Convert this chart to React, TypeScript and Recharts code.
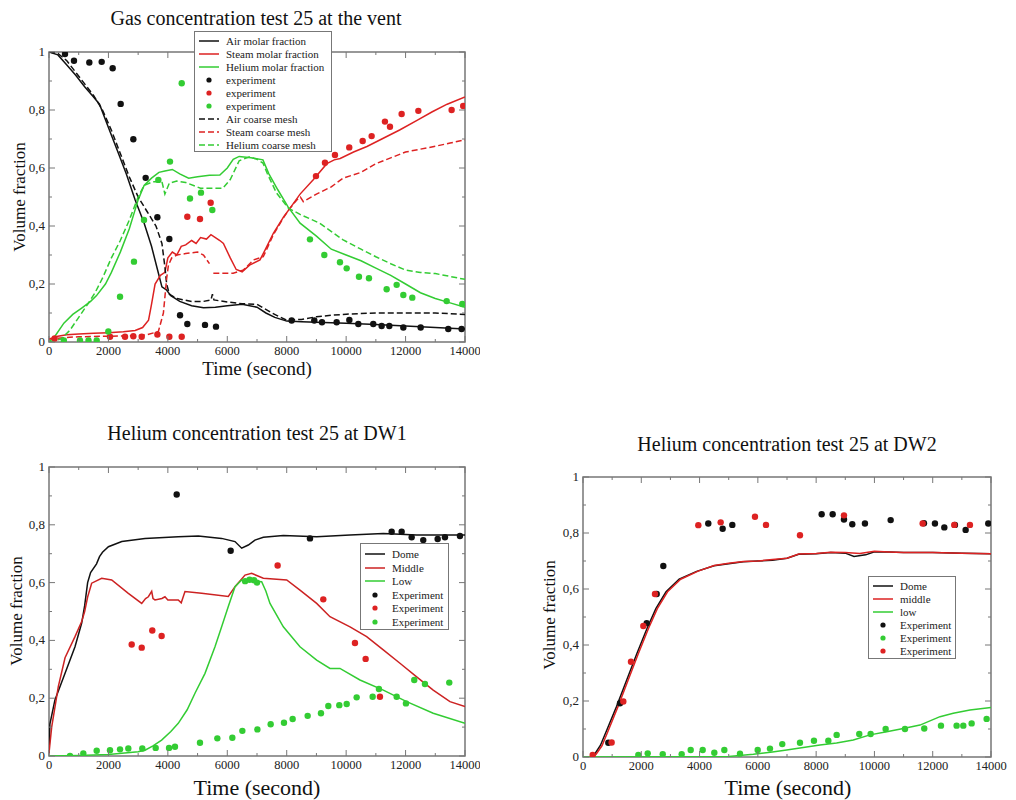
import React from 'react';
import { ComposedChart, Line, Scatter, XAxis, YAxis, ReferenceArea } from 'recharts';

type Pt = [number, number | null];

// ---- Gas concentration test 25 at the vent ----
const ventAirFine: Pt[] = [
  [0, 1], [300, 0.99], [600, 0.955], [900, 0.92], [1200, 0.88], [1500, 0.845], [1700, 0.82],
  [2000, 0.74], [2300, 0.66], [2600, 0.58], [2900, 0.49], [3200, 0.41], [3450, 0.33], [3650, 0.25],
  [3800, 0.19], [3950, 0.18], [4100, 0.16], [4400, 0.14], [4800, 0.125], [5200, 0.118], [5600, 0.12],
  [6000, 0.125], [6500, 0.13], [7000, 0.12], [7300, 0.1], [7600, 0.085], [8000, 0.072], [8500, 0.07],
  [9000, 0.068], [10000, 0.065], [11000, 0.06], [12000, 0.055], [13000, 0.05], [14000, 0.045],
];
const ventSteamFine: Pt[] = [
  [0, 0.01], [300, 0.02], [600, 0.025], [1000, 0.028], [1500, 0.03], [2000, 0.032], [2500, 0.035],
  [2900, 0.04], [3150, 0.05], [3350, 0.075], [3450, 0.13], [3570, 0.2], [3750, 0.23], [3900, 0.24],
  [4000, 0.29], [4150, 0.31], [4300, 0.3], [4450, 0.33], [4600, 0.335], [4800, 0.35], [4950, 0.34],
  [5100, 0.36], [5300, 0.355], [5450, 0.37], [5600, 0.36], [5750, 0.35], [5870, 0.34], [6100, 0.29],
  [6300, 0.25], [6500, 0.242], [6750, 0.265], [7100, 0.283], [7270, 0.317], [7550, 0.375], [7900, 0.432],
  [8100, 0.46], [8450, 0.51], [8900, 0.56], [9350, 0.615], [9600, 0.628], [9800, 0.633], [10250, 0.655],
  [10700, 0.674], [11200, 0.7], [11800, 0.731], [12400, 0.765], [12900, 0.794], [13400, 0.82], [14000, 0.845],
];
const ventHeliumFine: Pt[] = [
  [0, 0], [200, 0.02], [500, 0.065], [800, 0.095], [1100, 0.117], [1400, 0.14], [1600, 0.16], [1900, 0.2],
  [2100, 0.24], [2400, 0.31], [2700, 0.39], [3000, 0.49], [3200, 0.54], [3450, 0.565], [3700, 0.585],
  [3900, 0.59], [4150, 0.595], [4400, 0.58], [4700, 0.565], [5000, 0.57], [5400, 0.575], [5750, 0.576],
  [6000, 0.6], [6200, 0.63], [6400, 0.64], [6800, 0.635], [7200, 0.628], [7400, 0.58], [7700, 0.525],
  [8050, 0.465], [8450, 0.41], [9000, 0.365], [9500, 0.32], [10000, 0.3], [10500, 0.28], [11000, 0.255],
  [11500, 0.23], [12000, 0.2], [12500, 0.17], [13000, 0.15], [13500, 0.135], [14000, 0.12],
];
const ventAirCoarse: Pt[] = [
  [0, 1], [300, 0.995], [600, 0.97], [900, 0.93], [1200, 0.89], [1500, 0.85], [1800, 0.8], [2100, 0.73],
  [2400, 0.65], [2700, 0.57], [3000, 0.5], [3300, 0.45], [3600, 0.4], [3800, 0.34], [3900, 0.26],
  [3960, 0.2], [4050, 0.165], [4300, 0.15], [4800, 0.14], [5200, 0.14], [5450, 0.145], [5500, 0.165],
  [5550, 0.145], [6000, 0.138], [6500, 0.132], [7000, 0.13], [7500, 0.1], [8000, 0.075], [8500, 0.078],
  [9000, 0.087], [9500, 0.092], [10000, 0.096], [11000, 0.1], [12000, 0.1], [13000, 0.1], [14000, 0.095],
];
const ventSteamCoarse: Pt[] = [
  [0, 0.01], [500, 0.015], [1000, 0.018], [2000, 0.02], [3000, 0.022], [3300, 0.025], [3680, 0.036],
  [3850, 0.1], [3960, 0.22], [4020, 0.265], [4130, 0.29], [4300, 0.3], [4600, 0.305], [5000, 0.31],
  [5200, 0.3], [5400, 0.27], [5470, null], [5530, 0.237], [6200, 0.237], [6540, 0.248], [6880, 0.283],
  [7210, 0.294], [7550, 0.37], [7900, 0.43], [8100, 0.46], [8340, 0.49], [8460, 0.5], [8560, 0.484],
  [9000, 0.51], [9500, 0.535], [9900, 0.565], [10500, 0.585], [11000, 0.615], [11500, 0.635],
  [12000, 0.655], [12500, 0.665], [13000, 0.675], [13500, 0.686], [14000, 0.697],
];
const ventHeliumCoarse: Pt[] = [
  [0, 0], [400, 0.01], [700, 0.04], [1000, 0.085], [1300, 0.13], [1550, 0.17], [1800, 0.22], [2100, 0.29],
  [2400, 0.35], [2700, 0.42], [3000, 0.5], [3200, 0.54], [3500, 0.553], [3800, 0.553], [3900, 0.51],
  [4050, 0.548], [4300, 0.555], [4600, 0.55], [5100, 0.53], [5500, 0.53], [5850, 0.53], [6100, 0.56],
  [6400, 0.625], [6750, 0.639], [7000, 0.63], [7200, 0.617], [7350, 0.58], [7650, 0.515], [8050, 0.462],
  [8450, 0.44], [9100, 0.41], [9900, 0.352], [10500, 0.32], [11000, 0.294], [11500, 0.27], [12000, 0.248],
  [12500, 0.24], [13000, 0.236], [13500, 0.226], [14000, 0.216],
];
const ventAirExp: Pt[] = [
  [538, 0.993], [841, 0.97], [1357, 0.964], [1773, 0.966], [2143, 0.944], [2412, 0.821], [2838, 0.699],
  [3253, 0.566], [3647, 0.43], [4050, 0.355], [4410, 0.092], [4655, 0.062], [5250, 0.059], [5620, 0.053],
  [8166, 0.074], [8928, 0.074], [9187, 0.068], [9680, 0.068], [10108, 0.076], [10410, 0.062],
  [10913, 0.062], [11195, 0.055], [11453, 0.055], [11925, 0.05], [12508, 0.05], [13437, 0.045], [13886, 0.045],
];
const ventSteamExp: Pt[] = [
  [190, 0.012], [2053, 0.018], [2558, 0.018], [2838, 0.02], [3120, 0.018], [3647, 0.026], [4050, 0.018],
  [4466, 0.018], [4655, 0.432], [5081, 0.424], [5441, 0.48], [8985, 0.572], [9287, 0.618], [9624, 0.645],
  [10105, 0.671], [10556, 0.693], [10858, 0.71], [11306, 0.76], [11475, 0.742], [11868, 0.786],
  [12430, 0.797], [13550, 0.8], [13940, 0.814],
];
const ventHeliumExp: Pt[] = [
  [500, 0.005], [1043, 0.005], [1330, 0.005], [1605, 0.005], [1996, 0.036], [2390, 0.156], [2860, 0.277],
  [3197, 0.421], [3680, 0.559], [4072, 0.622], [4466, 0.892], [4745, 0.495], [5115, 0.515], [5496, 0.455],
  [8783, 0.354], [9265, 0.3], [9792, 0.275], [10018, 0.254], [10432, 0.225], [10768, 0.22], [11363, 0.182],
  [11700, 0.197], [11925, 0.162], [12226, 0.153], [13383, 0.141], [13908, 0.131],
];

// ---- Helium concentration test 25 at DW1 ----
const dw1Dome: Pt[] = [
  [0, 0.01], [30, 0.11], [200, 0.194], [540, 0.286], [875, 0.378], [1100, 0.46], [1200, 0.52], [1300, 0.6],
  [1400, 0.635], [1600, 0.665], [1700, 0.69], [1800, 0.705], [2000, 0.724], [2450, 0.742], [3230, 0.753],
  [4350, 0.759], [5025, 0.761], [5810, 0.753], [6260, 0.742], [6484, 0.719], [6708, 0.73], [6930, 0.747],
  [7213, 0.757], [7886, 0.763], [9008, 0.759], [10130, 0.765], [11250, 0.77], [12373, 0.765], [14000, 0.765],
];
const dw1Middle: Pt[] = [
  [0, 0.01], [90, 0.1], [313, 0.24], [540, 0.34], [875, 0.413], [1100, 0.465], [1200, 0.5], [1300, 0.55],
  [1436, 0.598], [1773, 0.615], [2110, 0.609], [2670, 0.563], [3120, 0.528], [3250, 0.545], [3343, 0.551],
  [3456, 0.57], [3500, 0.545], [3567, 0.54], [3800, 0.545], [3903, 0.551], [4000, 0.54], [4350, 0.54],
  [4450, 0.53], [4576, 0.569], [5137, 0.563], [6034, 0.552], [6260, 0.586], [6596, 0.626], [6820, 0.632],
  [7213, 0.615], [8000, 0.609], [8446, 0.574], [9008, 0.528], [9456, 0.482], [10130, 0.447], [10690, 0.413],
  [11250, 0.367], [11811, 0.321], [12373, 0.274], [12930, 0.228], [13494, 0.188], [14000, 0.171],
];
const dw1Low: Pt[] = [
  [0, 0], [1000, 0.002], [2000, 0.005], [3000, 0.015], [3230, 0.02], [3500, 0.035], [3790, 0.055],
  [4100, 0.085], [4350, 0.113], [4650, 0.16], [4913, 0.217], [5250, 0.286], [5586, 0.378], [5810, 0.447],
  [6034, 0.517], [6260, 0.586], [6484, 0.609], [6764, 0.605], [7157, 0.603], [7300, 0.57], [7437, 0.528],
  [7886, 0.447], [8446, 0.378], [9008, 0.332], [9456, 0.303], [9792, 0.303], [10465, 0.263], [11250, 0.228],
  [12037, 0.188], [12930, 0.148], [14000, 0.113],
];
const dw1DomeExp: Pt[] = [
  [4297, 0.905], [6114, 0.71], [8783, 0.753], [11532, 0.776], [11868, 0.776], [12205, 0.757],
  [12595, 0.747], [13080, 0.751], [13325, 0.757], [13830, 0.761],
];
const dw1MiddleExp: Pt[] = [
  [2783, 0.386], [3120, 0.375], [3476, 0.434], [3790, 0.415], [7695, 0.659], [9231, 0.542],
  [10297, 0.391], [10656, 0.336], [11138, 0.205],
];
const dw1LowExp: Pt[] = [
  [707, 0], [1155, 0.009], [1605, 0.018], [2053, 0.02], [2390, 0.023], [2670, 0.026], [3140, 0.026],
  [3590, 0.028], [4040, 0.028], [4240, 0.032], [5081, 0.046], [5665, 0.061], [6170, 0.063], [6507, 0.087],
  [6600, 0.605], [6750, 0.61], [6900, 0.608], [7000, 0.6],
  [7012, 0.092], [7460, 0.11], [7908, 0.115], [8200, 0.128], [8705, 0.139], [9153, 0.148], [9400, 0.173],
  [9770, 0.176], [10018, 0.18], [10354, 0.203], [10892, 0.205], [11104, 0.232], [11700, 0.205],
  [12013, 0.182], [12293, 0.263], [12652, 0.249], [13471, 0.254],
];

// ---- Helium concentration test 25 at DW2 ----
const dw2Dome: Pt[] = [
  [300, 0], [400, 0.01], [600, 0.042], [800, 0.092], [1150, 0.18], [1500, 0.275], [1850, 0.37], [2200, 0.46],
  [2500, 0.53], [2850, 0.59], [3300, 0.635], [3900, 0.663], [4500, 0.683], [5000, 0.69], [5500, 0.697],
  [6000, 0.7], [6500, 0.703], [7000, 0.71], [7400, 0.724], [8000, 0.726], [8500, 0.73], [9000, 0.728],
  [9300, 0.716], [9700, 0.722], [10000, 0.733], [10500, 0.732], [11000, 0.73], [12000, 0.73],
  [13000, 0.728], [14000, 0.726],
];
const dw2Middle: Pt[] = [
  [350, 0], [450, 0.01], [650, 0.04], [850, 0.09], [1200, 0.18], [1550, 0.275], [1900, 0.37], [2250, 0.46],
  [2550, 0.53], [2900, 0.59], [3350, 0.635], [3950, 0.664], [4500, 0.684], [5000, 0.692], [5500, 0.698],
  [6000, 0.7], [6500, 0.705], [7000, 0.71], [7400, 0.725], [8000, 0.727], [8500, 0.731], [9000, 0.73],
  [9500, 0.727], [10000, 0.735], [10500, 0.732], [11000, 0.73], [12000, 0.73], [13000, 0.728], [14000, 0.726],
];
const dw2Low: Pt[] = [
  [0, 0], [5000, 0.002], [5845, 0.01], [6500, 0.018], [6988, 0.025], [7500, 0.033], [8131, 0.043],
  [8700, 0.05], [9274, 0.061], [9847, 0.079], [10420, 0.09], [10990, 0.102], [11563, 0.114],
  [12250, 0.144], [12705, 0.156], [13278, 0.168], [14000, 0.177],
];
const dw2DomeExp: Pt[] = [
  [869, 0.051], [1270, 0.192], [2186, 0.478], [2529, 0.582], [2756, 0.682], [4299, 0.834], [4792, 0.815],
  [5124, 0.829], [8189, 0.867], [8567, 0.867], [8955, 0.848], [9240, 0.831], [9675, 0.834], [10557, 0.846],
  [11700, 0.835], [12077, 0.834], [12398, 0.82], [12763, 0.829], [13130, 0.811], [13907, 0.834],
];
const dw2MiddleExp: Pt[] = [
  [332, 0.007], [983, 0.052], [1384, 0.198], [1647, 0.34], [2070, 0.468], [2470, 0.582], [3957, 0.828],
  [4724, 0.838], [5901, 0.858], [6279, 0.829], [7445, 0.792], [8955, 0.863], [11655, 0.834],
  [12740, 0.829], [13278, 0.829],
];
const dw2LowExp: Pt[] = [
  [1898, 0.007], [2220, 0.013], [2736, 0.01], [3386, 0.01], [3695, 0.025], [4107, 0.025], [4506, 0.015],
  [4850, 0.025], [5387, 0.012], [5994, 0.025], [6416, 0.03], [6838, 0.046], [7445, 0.051], [7925, 0.058],
  [8418, 0.058], [8704, 0.079], [9480, 0.082], [9870, 0.082], [10385, 0.1], [11048, 0.1], [11710, 0.102],
  [12283, 0.112], [12820, 0.112], [13050, 0.112], [13336, 0.12], [13850, 0.136],
];

const xTicks = [0, 1000, 2000, 3000, 4000, 5000, 6000, 7000, 8000, 9000, 10000, 11000, 12000, 13000, 14000];
const yTicks = [0, 0.1, 0.2, 0.3, 0.4, 0.5, 0.6, 0.7, 0.8, 0.9, 1];
const yTickLabel = (v: number) => (v === 0 ? '0' : v === 1 ? '1' : v.toFixed(1).replace('.', ','));

const BLACK = '#111111';
const RED = '#dd2222';
const GREEN = '#33cc33';
const FRAME = '#777777';
const FONT = '"Liberation Serif", "DejaVu Serif", serif';

const rows = (pts: Pt[]) => pts.map(([t, v]) => ({ t, v }));

interface LineSpec { data: Pt[]; color: string; dashed?: boolean }
interface DotSpec { data: Pt[]; color: string }
interface LegendItem { label: string; color: string; kind: 'line' | 'dash' | 'dot' }

interface PanelProps {
  left: number; top: number; width: number; height: number;
  margin: { top: number; right: number; bottom: number; left: number };
  yAxisWidth: number;
  title: string; titlePos: [number, number];
  xLabelPos: [number, number]; xLabelSize: number;
  yLabelPos: [number, number];
  legendBox: { left: number; top: number; width: number; height: number; first: number; step: number };
  lines: LineSpec[]; dots: DotSpec[]; legend: LegendItem[];
}

const Panel: React.FC<PanelProps> = (p) => {
  const X_H = 30;
  const pl = p.margin.left + p.yAxisWidth;
  const pr = p.width - p.margin.right;
  const pt = p.margin.top;
  const pb = p.height - p.margin.bottom - X_H;

  const xTick = (props: any) => {
    const x = props.x;
    const val = props.payload.value;
    const major = val % 2000 === 0;
    const len = major ? 6 : 3;
    return (
      <g>
        <line x1={x} x2={x} y1={pb} y2={pb - len} stroke={FRAME} />
        <line x1={x} x2={x} y1={pt} y2={pt + len} stroke={FRAME} />
        {major && (
          <text x={x} y={pb + 13} textAnchor="middle" fontSize={12.5} fontFamily={FONT} fill="#222">
            {val}
          </text>
        )}
      </g>
    );
  };

  const yTick = (props: any) => {
    const y = props.y;
    const val = props.payload.value;
    const major = Math.round(val * 10) % 2 === 0;
    const len = major ? 6 : 3;
    return (
      <g>
        <line x1={pl} x2={pl + len} y1={y} y2={y} stroke={FRAME} />
        <line x1={pr} x2={pr - len} y1={y} y2={y} stroke={FRAME} />
        {major && (
          <text x={pl - 4} y={y + 4} textAnchor="end" fontSize={13} fontFamily={FONT} fill="#222">
            {yTickLabel(val)}
          </text>
        )}
      </g>
    );
  };

  const lb = p.legendBox;

  return (
    <div style={{ position: 'absolute', left: p.left, top: p.top, width: p.width, height: p.height, fontFamily: FONT }}>
      <ComposedChart width={p.width} height={p.height} margin={p.margin}>
        <XAxis
          type="number" dataKey="t" domain={[0, 14000]} allowDataOverflow ticks={xTicks} interval={0}
          height={X_H} axisLine={false} tickLine={false} tick={xTick}
        />
        <YAxis
          type="number" dataKey="v" domain={[0, 1]} allowDataOverflow ticks={yTicks} interval={0}
          width={p.yAxisWidth} axisLine={false} tickLine={false} tick={yTick}
        />
        <ReferenceArea x1={0} x2={14000} y1={0} y2={1} fill="none" stroke={FRAME} strokeWidth={1.5} />
        {p.lines.map((l, i) => (
          <Line
            key={`l${i}`} data={rows(l.data)} dataKey="v" type="linear" stroke={l.color}
            strokeWidth={1.5} strokeDasharray={l.dashed ? '6 3' : undefined} dot={false}
            isAnimationActive={false}
          />
        ))}
        {p.dots.map((d, i) => (
          <Scatter
            key={`d${i}`} data={rows(d.data)} dataKey="v" isAnimationActive={false}
            shape={(s: any) => <circle cx={s.cx} cy={s.cy} r={3.2} fill={d.color} />}
          />
        ))}
      </ComposedChart>

      <div style={{ position: 'absolute', left: p.titlePos[0], top: p.titlePos[1], transform: 'translate(-50%, -50%)', fontSize: 20, whiteSpace: 'nowrap', color: '#111' }}>
        {p.title}
      </div>
      <div style={{ position: 'absolute', left: p.xLabelPos[0], top: p.xLabelPos[1], transform: 'translate(-50%, -50%)', fontSize: p.xLabelSize, lineHeight: 1, whiteSpace: 'nowrap', color: '#111' }}>
        Time (second)
      </div>
      <div style={{ position: 'absolute', left: p.yLabelPos[0], top: p.yLabelPos[1], transform: 'translate(-50%, -50%) rotate(-90deg)', fontSize: 17, whiteSpace: 'nowrap', color: '#111' }}>
        Volume fraction
      </div>

      <div style={{ position: 'absolute', left: lb.left, top: lb.top, width: lb.width, height: lb.height, border: `1px solid ${FRAME}`, background: '#fff', boxSizing: 'border-box' }}>
        {p.legend.map((it, i) => (
          <div key={i} style={{ position: 'absolute', left: 3, top: lb.first + i * lb.step - 7, height: 14, display: 'flex', alignItems: 'center', fontSize: 11, color: '#222', whiteSpace: 'nowrap' }}>
            <svg width={22} height={14} style={{ marginRight: 6 }}>
              {it.kind === 'dot' ? (
                <circle cx={11} cy={7} r={2.6} fill={it.color} />
              ) : (
                <line x1={1} x2={21} y1={7} y2={7} stroke={it.color} strokeWidth={1.5} strokeDasharray={it.kind === 'dash' ? '6 3' : undefined} />
              )}
            </svg>
            {it.label}
          </div>
        ))}
      </div>
    </div>
  );
};

export default function App() {
  return (
    <div style={{ position: 'absolute', left: 0, top: 0, width: 1016, height: 800, background: '#fff', overflow: 'hidden' }}>
      <Panel
        left={0} top={0} width={480} height={380}
        margin={{ top: 52, right: 15, bottom: 8, left: 0 }} yAxisWidth={49}
        title="Gas concentration test 25 at the vent" titlePos={[256, 18]}
        xLabelPos={[257, 368]} xLabelSize={19} yLabelPos={[20, 197]}
        legendBox={{ left: 194, top: 31, width: 138, height: 121, first: 9, step: 13 }}
        lines={[
          { data: ventAirFine, color: BLACK },
          { data: ventSteamFine, color: RED },
          { data: ventHeliumFine, color: GREEN },
          { data: ventAirCoarse, color: BLACK, dashed: true },
          { data: ventSteamCoarse, color: RED, dashed: true },
          { data: ventHeliumCoarse, color: GREEN, dashed: true },
        ]}
        dots={[
          { data: ventAirExp, color: BLACK },
          { data: ventSteamExp, color: RED },
          { data: ventHeliumExp, color: GREEN },
        ]}
        legend={[
          { label: 'Air molar fraction', color: BLACK, kind: 'line' },
          { label: 'Steam molar fraction', color: RED, kind: 'line' },
          { label: 'Helium molar fraction', color: GREEN, kind: 'line' },
          { label: 'experiment', color: BLACK, kind: 'dot' },
          { label: 'experiment', color: RED, kind: 'dot' },
          { label: 'experiment', color: GREEN, kind: 'dot' },
          { label: 'Air coarse mesh', color: BLACK, kind: 'dash' },
          { label: 'Steam coarse mesh', color: RED, kind: 'dash' },
          { label: 'Helium coarse mesh', color: GREEN, kind: 'dash' },
        ]}
      />
      <Panel
        left={0} top={410} width={480} height={390}
        margin={{ top: 57, right: 15, bottom: 14, left: 0 }} yAxisWidth={49}
        title="Helium concentration test 25 at DW1" titlePos={[257, 23]}
        xLabelPos={[257, 378]} xLabelSize={22} yLabelPos={[17, 201]}
        legendBox={{ left: 360, top: 133, width: 89, height: 87, first: 10, step: 13.5 }}
        lines={[
          { data: dw1Dome, color: BLACK },
          { data: dw1Middle, color: '#cc2222' },
          { data: dw1Low, color: GREEN },
        ]}
        dots={[
          { data: dw1DomeExp, color: BLACK },
          { data: dw1MiddleExp, color: RED },
          { data: dw1LowExp, color: GREEN },
        ]}
        legend={[
          { label: 'Dome', color: BLACK, kind: 'line' },
          { label: 'Middle', color: '#cc2222', kind: 'line' },
          { label: 'Low', color: GREEN, kind: 'line' },
          { label: 'Experiment', color: BLACK, kind: 'dot' },
          { label: 'Experiment', color: RED, kind: 'dot' },
          { label: 'Experiment', color: GREEN, kind: 'dot' },
        ]}
      />
      <Panel
        left={520} top={420} width={496} height={380}
        margin={{ top: 57, right: 25, bottom: 13, left: 0 }} yAxisWidth={63}
        title="Helium concentration test 25 at DW2" titlePos={[267, 24]}
        xLabelPos={[268, 368]} xLabelSize={22} yLabelPos={[30, 195]}
        legendBox={{ left: 348, top: 156, width: 88, height: 83, first: 8.5, step: 13 }}
        lines={[
          { data: dw2Dome, color: BLACK },
          { data: dw2Middle, color: RED },
          { data: dw2Low, color: GREEN },
        ]}
        dots={[
          { data: dw2DomeExp, color: BLACK },
          { data: dw2LowExp, color: GREEN },
          { data: dw2MiddleExp, color: RED },
        ]}
        legend={[
          { label: 'Dome', color: BLACK, kind: 'line' },
          { label: 'middle', color: RED, kind: 'line' },
          { label: 'low', color: GREEN, kind: 'line' },
          { label: 'Experiment', color: BLACK, kind: 'dot' },
          { label: 'Experiment', color: GREEN, kind: 'dot' },
          { label: 'Experiment', color: RED, kind: 'dot' },
        ]}
      />
    </div>
  );
}
